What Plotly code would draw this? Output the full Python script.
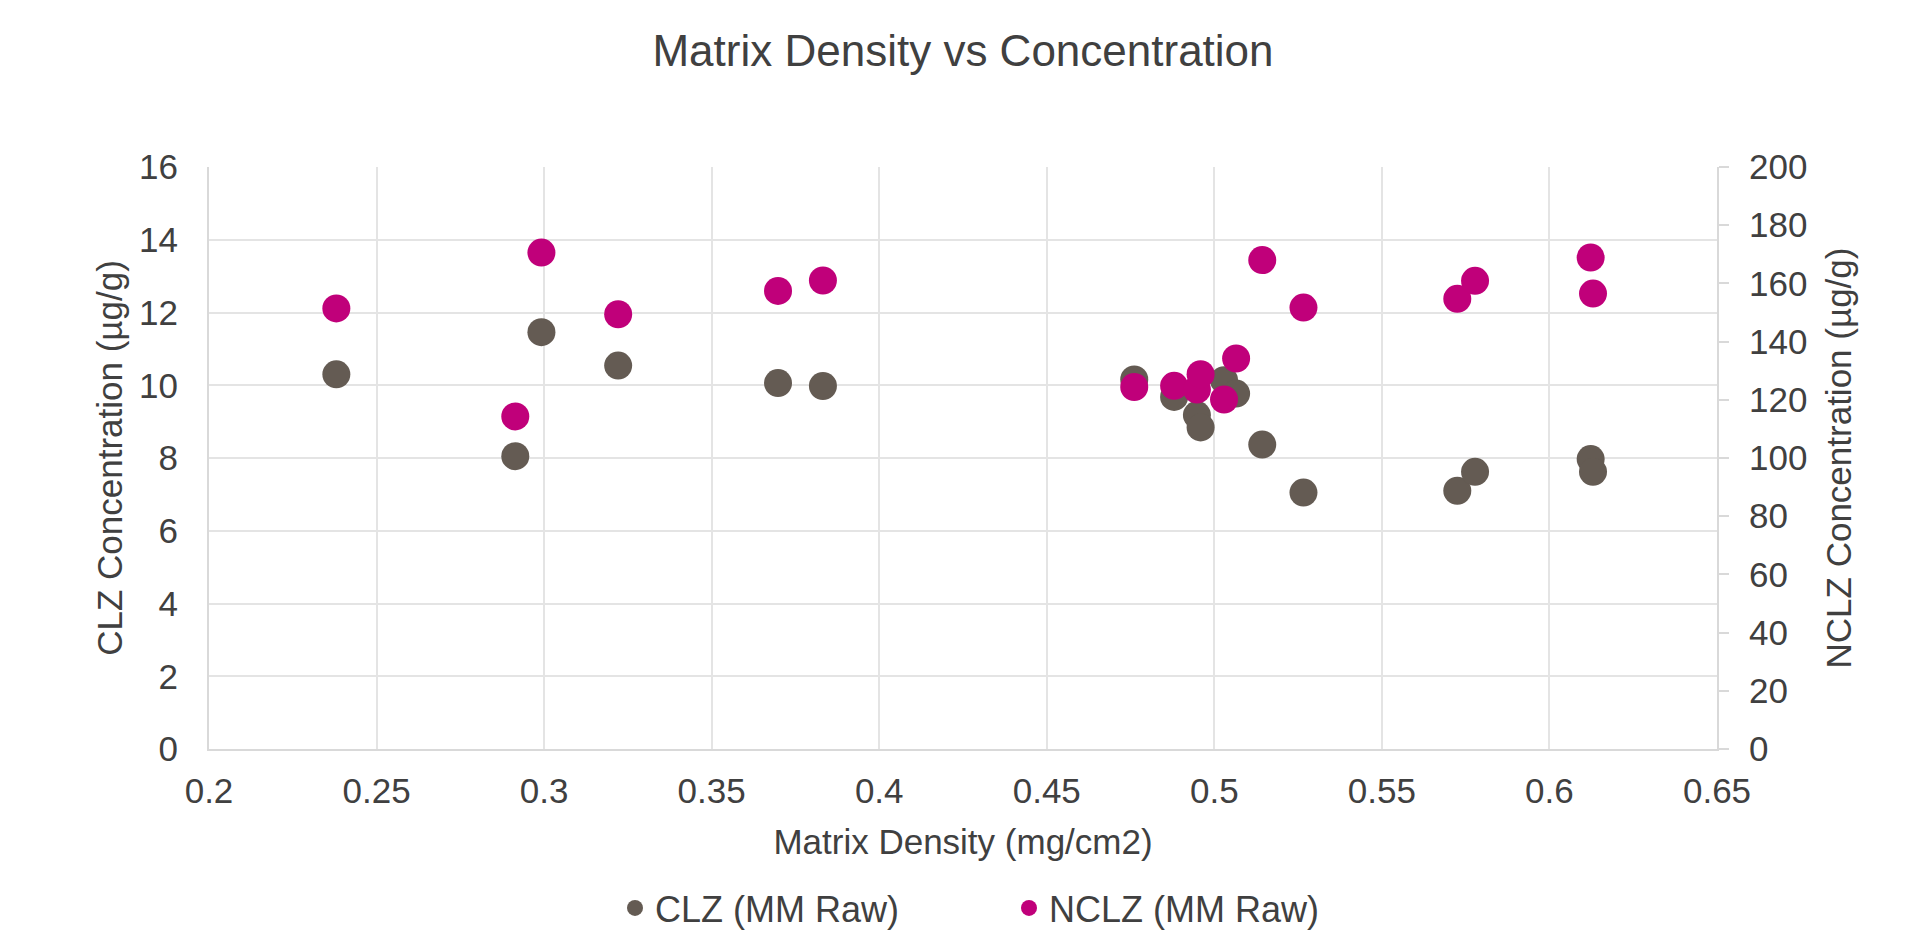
import plotly.graph_objects as go

# Data
matrix_density = [0.238, 0.2914, 0.2992, 0.3221, 0.3698, 0.3832, 0.4761, 0.4880, 0.4948,
                  0.4959, 0.5029, 0.5065, 0.5143, 0.5266, 0.5725, 0.5778, 0.6123, 0.6130]
clz_conc = [10.30, 8.05, 11.46, 10.54, 10.06, 9.98, 10.16, 9.68, 9.18,
            8.84, 10.14, 9.77, 8.37, 7.05, 7.10, 7.62, 7.97, 7.62]
nclz_conc = [151.4, 114.3, 170.6, 149.4, 157.4, 161.0, 124.4, 124.8, 123.5,
             128.8, 120.1, 134.2, 168.0, 151.7, 154.7, 160.9, 168.9, 156.5]

x_tickvals = [0.2, 0.25, 0.3, 0.35, 0.4, 0.45, 0.5, 0.55, 0.6, 0.65]
x_ticktext = ["0.2", "0.25", "0.3", "0.35", "0.4", "0.45", "0.5", "0.55", "0.6", "0.65"]
y_tickvals = [0, 2, 4, 6, 8, 10, 12, 14, 16]
y2_tickvals = [0, 20, 40, 60, 80, 100, 120, 140, 160, 180, 200]

series_names = ["CLZ (MM Raw)", "NCLZ (MM Raw)"]
GRAY = "#645b53"
MAGENTA = "#c0007a"
TEXT = "#404040"
FONT = "Liberation Sans, Arial, sans-serif"

fig = go.Figure()
fig.add_trace(go.Scatter(x=matrix_density, y=clz_conc, mode="markers", name=series_names[0],
                         marker=dict(color=GRAY, size=28), yaxis="y"))
fig.add_trace(go.Scatter(x=matrix_density, y=nclz_conc, mode="markers", name=series_names[1],
                         marker=dict(color=MAGENTA, size=28), yaxis="y2"))

fig.update_layout(
    width=1909, height=934,
    margin=dict(l=209, r=192, t=167, b=185, autoexpand=False),
    paper_bgcolor="white", plot_bgcolor="white",
    font=dict(family=FONT, size=35, color=TEXT),
    title=dict(text="Matrix Density vs Concentration", x=0.5, xref="paper",
               y=1 - 51 / 934, yanchor="middle", xanchor="center",
               font=dict(size=44, color=TEXT)),
    xaxis=dict(range=[0.2, 0.65], tickvals=x_tickvals, ticktext=x_ticktext,
               showgrid=True, gridcolor="#e4e4e4", gridwidth=2, automargin=False,
               showline=True, linecolor="#d9d9d9", linewidth=2, zeroline=False,
               ticks="", ticklabelstandoff=10,
               title=dict(text="Matrix Density (mg/cm2)", standoff=20, font=dict(size=35))),
    yaxis=dict(range=[0, 16], tickvals=y_tickvals, automargin=False,
               showgrid=True, gridcolor="#e4e4e4", gridwidth=2,
               showline=True, linecolor="#d9d9d9", linewidth=2, zeroline=False,
               ticks="", ticklabelstandoff=22,
               title=dict(text="CLZ Concentration (µg/g)", standoff=6, font=dict(size=35))),
    yaxis2=dict(range=[0, 200], tickvals=y2_tickvals, overlaying="y", side="right",
                automargin=False,
                showgrid=False, showline=True, linecolor="#d9d9d9", linewidth=2, zeroline=False,
                ticks="outside", ticklen=10, tickcolor="#d9d9d9", tickwidth=2,
                ticklabelstandoff=13,
                title=dict(text="NCLZ Concentration (µg/g)", standoff=20, font=dict(size=35))),
    legend=dict(orientation="h", x=(615 - 209) / 1508, xanchor="left",
                yref="container", y=1 - 908 / 934, yanchor="middle",
                font=dict(size=36, color=TEXT), entrywidth=349, entrywidthmode="pixels",
                bgcolor="rgba(0,0,0,0)"),
    showlegend=True,
)

fig.write_html("out.html")
